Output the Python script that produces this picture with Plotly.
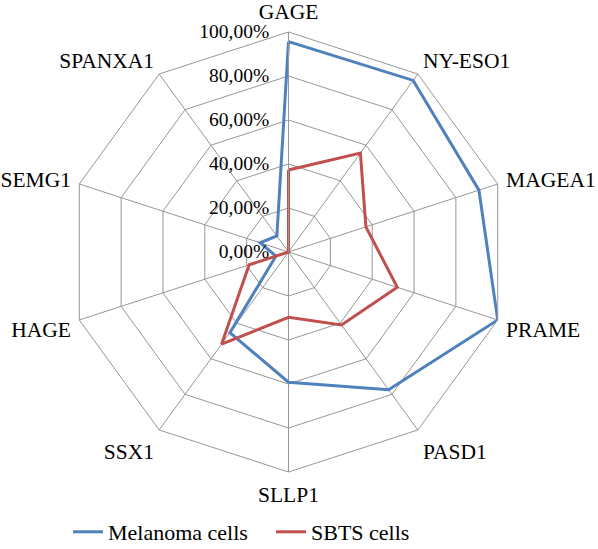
import plotly.graph_objects as go

categories = ["GAGE", "NY-ESO1", "MAGEA1", "PRAME", "PASD1", "SLLP1",
              "SSX1", "HAGE", "SEMG1", "SPANXA1"]
melanoma = [0.956, 0.964, 0.91, 1.00, 0.774, 0.592, 0.453, 0.06, 0.136, 0.09]
sbts = [0.373, 0.556, 0.37, 0.52, 0.41, 0.297, 0.517, 0.188, 0.0, 0.0]
tick_vals = [0, 0.2, 0.4, 0.6, 0.8, 1.0]
tick_text = ["0,00%", "20,00%", "40,00%", "60,00%", "80,00%", "100,00%"]

BLUE = "#4F81BD"
RED = "#C0504D"
GRID = "#969696"
FONT = "'Liberation Serif', 'Times New Roman', Times, serif"

fig = go.Figure()
for name, vals, col in [("Melanoma cells", melanoma, BLUE), ("SBTS cells", sbts, RED)]:
    fig.add_trace(go.Scatterpolar(
        r=vals + vals[:1], theta=categories + categories[:1],
        mode="lines", name=name,
        line=dict(color=col, width=3),
    ))

W, H = 598, 549
cx, cy, R = 288.5, 252, 220
fig.update_layout(
    width=W, height=H,
    margin=dict(l=0, r=0, t=0, b=0, autoexpand=False),
    paper_bgcolor="white",
    font=dict(family=FONT, size=21, color="black"),
    polar=dict(
        domain=dict(x=[(cx - R) / W, (cx + R) / W],
                    y=[(H - cy - R) / H, (H - cy + R) / H]),
        gridshape="linear",
        bgcolor="white",
        angularaxis=dict(
            rotation=90, direction="clockwise",
            categoryorder="array", categoryarray=categories,
            showline=True, linecolor=GRID, linewidth=1,
            gridcolor=GRID, gridwidth=1,
            ticks="outside", ticklen=4, tickcolor="rgba(0,0,0,0)",
            tickfont=dict(family=FONT, size=21.5),
        ),
        radialaxis=dict(
            range=[0, 1], angle=90, side="counterclockwise",
            tickvals=tick_vals, ticktext=tick_text,
            showline=True, linecolor=GRID, linewidth=1,
            gridcolor=GRID, gridwidth=1,
            ticks="outside", ticklen=12, tickcolor="rgba(0,0,0,0)",
            tickangle=90,
            tickfont=dict(family=FONT, size=19.5),
        ),
    ),
    showlegend=True,
    legend=dict(orientation="h", x=(73 - 5) / W, xanchor="left",
                y=(549 - 532) / H, yanchor="middle",
                font=dict(family=FONT, size=22), entrywidth=158,
                bgcolor="rgba(0,0,0,0)"),
)
fig.write_html("out.html", config={"displayModeBar": False},
               post_script="document.body.style.margin='0';")
